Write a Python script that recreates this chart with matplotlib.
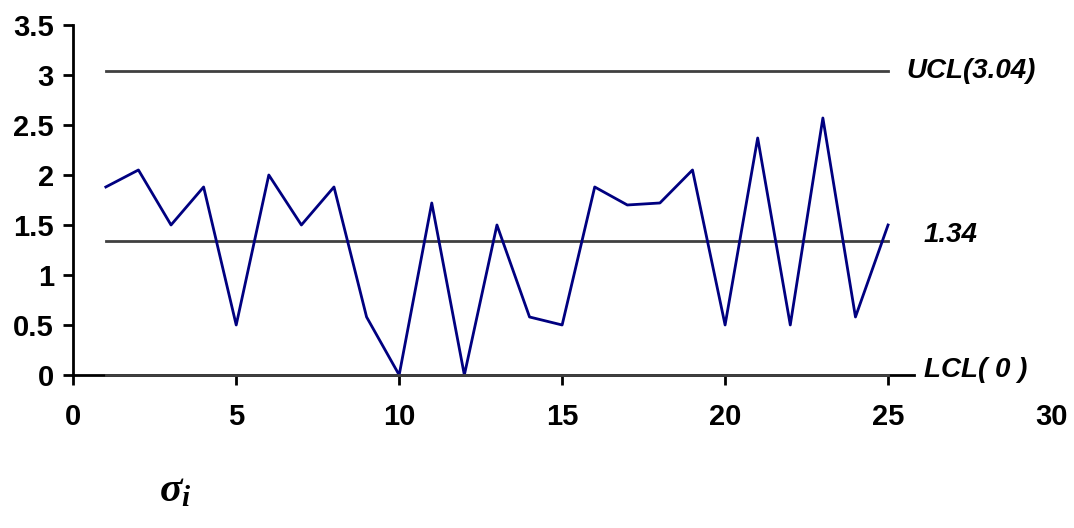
import matplotlib
matplotlib.use("Agg")
import matplotlib.pyplot as plt

# Sample index and standard deviation per sample
samples = list(range(1, 26))
sigma = [1.88, 2.05, 1.50, 1.88, 0.50, 2.00, 1.50, 1.88, 0.58, 0.00,
         1.72, 0.00, 1.50, 0.58, 0.50, 1.88, 1.70, 1.72, 2.05, 0.50,
         2.37, 0.50, 2.57, 0.58, 1.50]

# Control limits
ucl = 3.04
center = 1.34
lcl = 0.0

x_ticks = [0, 5, 10, 15, 20, 25, 30]
y_ticks = [0, 0.5, 1, 1.5, 2, 2.5, 3, 3.5]
y_tick_labels = ["0", "0.5", "1", "1.5", "2", "2.5", "3", "3.5"]

plt.rcParams['font.family'] = ['Liberation Sans', 'DejaVu Sans']
plt.rcParams['mathtext.fontset'] = 'custom'
plt.rcParams['mathtext.it'] = 'Liberation Serif:italic:bold'
plt.rcParams['mathtext.rm'] = 'Liberation Serif:bold'

fig = plt.figure(figsize=(10.74, 5.28), dpi=100)
ax = fig.add_axes([0.0682, 0.2898, 0.9104, 0.6629])

limit_color = "#404040"
ax.plot([samples[0], samples[-1]], [ucl, ucl], color=limit_color, lw=2.0, zorder=2)
ax.plot([samples[0], samples[-1]], [center, center], color=limit_color, lw=2.0, zorder=2)
ax.plot([samples[0], samples[-1]], [lcl, lcl], color=limit_color, lw=2.0, zorder=4, clip_on=False)
ax.plot(samples, sigma, color="#000080", lw=2.0, zorder=3, clip_on=False)

ax.set_xlim(0, 30)
ax.set_ylim(0, 3.5)
ax.set_xticks(x_ticks)
ax.set_xticklabels([str(v) for v in x_ticks])
ax.set_yticks(y_ticks)
ax.set_yticklabels(y_tick_labels)

for side in ("top", "right"):
    ax.spines[side].set_visible(False)
for side in ("left", "bottom"):
    ax.spines[side].set_linewidth(2.0)
    ax.spines[side].set_color("black")
ax.spines["bottom"].set_bounds(0, 25.8)

ax.tick_params(axis="both", direction="out", length=7, width=2.0, labelsize=21)
ax.tick_params(axis="x", pad=13)
ax.tick_params(axis="y", pad=7)
ax.xaxis.get_major_ticks()[-1].tick1line.set_visible(False)
for lbl in ax.get_xticklabels() + ax.get_yticklabels():
    lbl.set_fontweight("bold")

label_kw = dict(fontsize=20, fontweight="bold", style="italic", va="center", ha="left",
                clip_on=False)
ax.text(25.57, ucl, "UCL(3.04)", **label_kw)
ax.text(26.1, 1.40, f"{center:.2f}", **label_kw)
ax.text(26.1, 0.05, "LCL( 0 )", **label_kw)

fig.text(0.163, 0.072, r"$\sigma_i$", fontsize=30, ha="center", va="center")

fig.savefig("out.png", dpi=100, facecolor="white")
